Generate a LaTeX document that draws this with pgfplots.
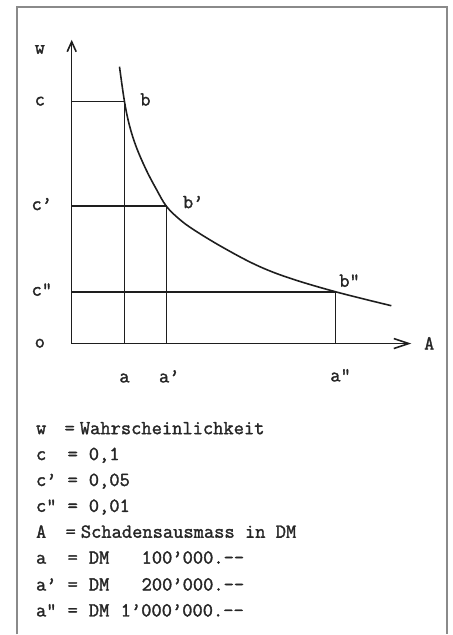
\documentclass[border=0pt]{standalone}
\usepackage{fontspec}
\usepackage{pgfplots}
\pgfplotsset{compat=1.18}
\usetikzlibrary{arrows.meta}

\newfontfamily\typew{Latin Modern Mono}[FakeBold=1.6]

\definecolor{ink}{HTML}{1E1E1E}
\definecolor{txt}{HTML}{262626}
\definecolor{frame}{HTML}{8A8A8A}

% risk curve w(A): schematic positions of the three reference points
\pgfplotstableread{
x   y
48  278
53  243
58  219
65  197
75  174
85  155
95  138
108 125
123 114
151 97
185 79
218 66
265 52
321 38
}\curve

\begin{document}
\begin{tikzpicture}[every node/.style={inner sep=0pt, text=txt,
    font=\typew\fontsize{20}{26}\selectfont}]
\begin{axis}[x=1pt, y=1pt, hide axis, clip=false,
    xmin=-72, xmax=382, ymin=-290, ymax=345]
  % page extent and frame
  \path (axis cs:-72,-290) rectangle (axis cs:382,345);
  \draw[frame, line width=1.3pt] (axis cs:-55,-292) -- (axis cs:-55,338)
        -- (axis cs:377,338) -- (axis cs:377,-292);

  % axes
  \addplot[ink, line width=1.6pt, -{Straight Barb[length=10pt,width=9pt]}]
    coordinates {(0,0) (0,305)};
  \addplot[ink, line width=1.6pt, -{Straight Barb[length=15pt,width=10pt]}]
    coordinates {(0,0) (341,0)};

  % rectangles under b, b', b''
  \addplot[ink, line width=1.6pt] coordinates {(0,243) (53,243) (53,0)};
  \addplot[ink, line width=1.6pt] coordinates {(0,138) (95,138) (95,0)};
  \addplot[ink, line width=1.6pt] coordinates {(0,52) (265,52) (265,0)};

  % curve
  \addplot[ink, line width=1.6pt, smooth, tension=0.6] table[x=x, y=y] {\curve};

  % axis labels
  \node[anchor=base] at (axis cs:-32,291) {w};
  \node[anchor=base] at (axis cs:-32,239) {c};
  \node[anchor=base] at (axis cs:-30,134) {c’};
  \node[anchor=base] at (axis cs:-30,48) {c"};
  \node[anchor=base] at (axis cs:-32,-4) {o};
  \node[anchor=base] at (axis cs:74,239) {b};
  \node[anchor=base] at (axis cs:122,136) {b’};
  \node[anchor=base] at (axis cs:279,57) {b"};
  \node[anchor=base] at (axis cs:53,-39) {a};
  \node[anchor=base] at (axis cs:98,-39) {a’};
  \node[anchor=base] at (axis cs:270,-38) {a"};
  \node[anchor=base] at (axis cs:359,-6) {A};

  % key
  \node[anchor=base west] at (axis cs:-36,-91) {w};
  \node[anchor=base] at (axis cs:-2,-91) {=};
  \node[anchor=base west] at (axis cs:8,-91) {Wahrscheinlichkeit};

  \node[anchor=base west] at (axis cs:-36,-117) {c};
  \node[anchor=base] at (axis cs:1,-117) {=};
  \node[anchor=base west] at (axis cs:17,-117) {0,1};

  \node[anchor=base west] at (axis cs:-36,-143) {c’};
  \node[anchor=base] at (axis cs:1,-143) {=};
  \node[anchor=base west] at (axis cs:17,-143) {0,05};

  \node[anchor=base west] at (axis cs:-36,-169) {c"};
  \node[anchor=base] at (axis cs:1,-169) {=};
  \node[anchor=base west] at (axis cs:17,-169) {0,01};

  \node[anchor=base west] at (axis cs:-36,-195) {A};
  \node[anchor=base] at (axis cs:-1,-195) {=};
  \node[anchor=base west] at (axis cs:9,-195) {Schadensausmass in DM};

  \node[anchor=base west] at (axis cs:-36,-221) {a};
  \node[anchor=base] at (axis cs:1,-221) {=};
  \node[anchor=base west] at (axis cs:17,-221) {DM};
  \node[anchor=base west] at (axis cs:70,-221) {100’000.--};

  \node[anchor=base west] at (axis cs:-36,-248) {a’};
  \node[anchor=base] at (axis cs:1,-248) {=};
  \node[anchor=base west] at (axis cs:17,-248) {DM};
  \node[anchor=base west] at (axis cs:70,-248) {200’000.--};

  \node[anchor=base west] at (axis cs:-36,-274) {a"};
  \node[anchor=base] at (axis cs:1,-274) {=};
  \node[anchor=base west] at (axis cs:17,-274) {DM};
  \node[anchor=base west] at (axis cs:49,-274) {1’000’000.--};
\end{axis}
\end{tikzpicture}
\end{document}
